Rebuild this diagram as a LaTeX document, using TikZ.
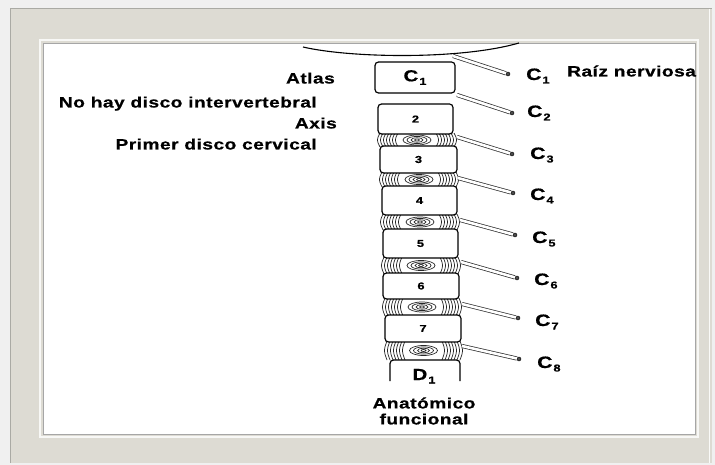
\documentclass[tikz,border=0pt]{standalone}
\usepackage{fontspec}
\newfontfamily\lab{Liberation Sans Bold}[FakeStretch=1.28,LetterSpace=3,FakeBold=0.6]
\definecolor{framebeige}{RGB}{221,219,211}
\definecolor{frameedge}{RGB}{170,170,164}
\newcommand\lsize[1]{\fontsize{#1}{#1}\selectfont}
\newcommand\cn[1]{C\kern1pt\raisebox{-3.5pt}{\lsize{10}#1}}
% intervertebral disc: left x, right x, top y, bottom y
\newcommand\ivdisc[4]{%
  \pgfmathsetmacro\dcx{(#1+#2)/2}\pgfmathsetmacro\dcy{(#3+#4)/2}%
  \foreach \i in {0,...,6}{%
    \draw[fib] ({#1+1+\i*3},#3) .. controls ({#1-2.5+\i*3},\dcy) .. ({#1+1+\i*3},#4);
    \draw[fib] ({#2-1-\i*3},#3) .. controls ({#2+2.5-\i*3},\dcy) .. ({#2-1-\i*3},#4);
  }%
  \foreach \rx/\ry in {14/5,10/3.6,6/2.2,2.5/1}{\draw[fib] (\dcx,\dcy) ellipse[x radius=\rx, y radius=\ry];}%
}
\begin{document}
\begin{tikzpicture}[x=1pt,y=-1pt,
  vert/.style={draw, line width=1.2pt, rounded corners=3.5pt, fill=white, inner sep=0pt},
  fib/.style={draw=black!85, line width=0.7pt},
  root/.style={draw=black!80, line width=0.75pt, double=white, double distance=2.6pt},
  rootend/.style={circle, draw=black, fill=black!70, inner sep=0pt, minimum size=4pt},
  txt/.style={inner sep=0pt, font=\lab\lsize{15}},
  clab/.style={inner sep=0pt, font=\lab\lsize{16.5}, anchor=base west}]
\useasboundingbox (0,0) rectangle (715,465);
% frame
\fill[black!6] (0,0) rectangle (715,465);
\fill[framebeige] (10,8) rectangle (712,463);
\draw[frameedge, line width=1.2pt] (10.6,463) -- (10.6,8.6) -- (712,8.6);
\draw[white!85!framebeige, line width=1pt] (709,9) -- (709,463);
\draw[white!80!framebeige, line width=2pt] (40,40) rectangle (698,437);
\fill[white] (43,43) rectangle (695,434);
\draw[black!35, line width=0.9pt] (43,43) rectangle (695,434);

% skull base
\draw[line width=1.1pt] (303,47) .. controls (350,58) and (460,60) .. (519,43);

% discs
\ivdisc{379}{455}{133}{147}
\ivdisc{381}{457}{172}{187}
\ivdisc{382}{458}{214}{230}
\ivdisc{383}{459}{257}{274}
\ivdisc{384}{460}{298}{316}
\ivdisc{386}{461}{341}{360}

% vertebrae
\node[vert, minimum width=80pt, minimum height=31pt, font=\lab\lsize{16}] (v1) at (415,77.5) {\cn{1}};
\node[vert, minimum width=75pt, minimum height=30pt, font=\lab\lsize{10}] (v2) at (415.5,119) {2};
\node[vert, minimum width=77pt, minimum height=27pt, font=\lab\lsize{10}] (v3) at (418.5,159.5) {3};
\node[vert, minimum width=75pt, minimum height=29pt, font=\lab\lsize{10}] (v4) at (419.5,200.5) {4};
\node[vert, minimum width=75pt, minimum height=29pt, font=\lab\lsize{10}] (v5) at (420.5,243.5) {5};
\node[vert, minimum width=76pt, minimum height=26pt, font=\lab\lsize{10}] (v6) at (421,286) {6};
\node[vert, minimum width=76pt, minimum height=27pt, font=\lab\lsize{10}] (v7) at (423,328.5) {7};
\fill[white] (390,360) rectangle (460,381);
\draw[line width=1.2pt, rounded corners=3.5pt] (390,381) -- (390,360) -- (460,360) -- (460,381);
\node[inner sep=0pt, font=\lab\lsize{16}, anchor=base] (d1) at (424,380) {D\kern1pt\raisebox{-3.5pt}{\lsize{10}1}};

% nerve roots
\foreach \n/\sx/\sy/\ex/\ey in {1/453/56/508/74, 2/457/95/512/113, 3/457/137/512/154, 4/458/178/513/193,
                              5/460/220/515/235, 6/461/262/517/278, 7/462/304/518/318, 8/462/346/519/359}{
  \coordinate (r\n s) at (\sx,\sy);
  \node[rootend] (r\n e) at (\ex,\ey) {};
  \draw[root] (r\n s) -- (r\n e);
}

% root labels
\node[clab] (l1) at (526,80) {\cn{1}};
\node[clab] (l2) at (527,117) {\cn{2}};
\node[clab] (l3) at (530,159) {\cn{3}};
\node[clab] (l4) at (530,200) {\cn{4}};
\node[clab] (l5) at (532,243) {\cn{5}};
\node[clab] (l6) at (534,285) {\cn{6}};
\node[clab] (l7) at (535,326) {\cn{7}};
\node[clab] (l8) at (537,368) {\cn{8}};
\node[txt, anchor=base west] (raiz) at (567,76.5) {Raíz nerviosa};

% left labels
\node[txt, anchor=base east] (atlas) at (335,83.5) {Atlas};
\node[txt, anchor=base east] (nodisc) at (317,107.5) {No hay disco intervertebral};
\node[txt, anchor=base east] (axis) at (337,128.5) {Axis};
\node[txt, anchor=base east] (primer) at (317,149.5) {Primer disco cervical};

% bottom caption
\node[txt, align=center, font=\lab\fontsize{15}{16}\selectfont] (cap) at (424,411) {Anatómico\\funcional};
\end{tikzpicture}
\end{document}
